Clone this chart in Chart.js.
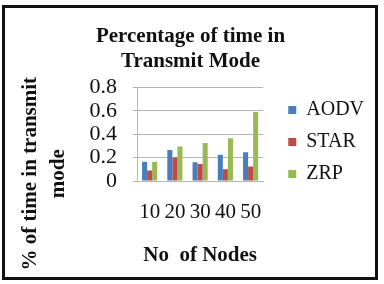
<!DOCTYPE html>
<html>
<head>
<meta charset="utf-8">
<script src="https://cdn.jsdelivr.net/npm/chart.js@4"></script>
<style>
  html, body { margin:0; padding:0; background:#fff; }
  #frame { position:absolute; left:2px; top:5px; width:370px; height:269px; border:3px solid #111; }
  #wrap { position:absolute; left:0; top:0; width:384px; height:284px; }
</style>
</head>
<body>
<div id="frame"></div>
<div id="wrap"><canvas id="c" width="384" height="284"></canvas></div>
<script>
// ─── data ────────────────────────────────────────────────
const nodes = ['10', '20', '30', '40', '50'];
const aodv  = [0.165, 0.265, 0.16, 0.225, 0.245];
const star  = [0.09, 0.20, 0.145, 0.10, 0.125];
const zrp   = [0.165, 0.295, 0.325, 0.365, 0.59];
const yTicks = [0, 0.2, 0.4, 0.6, 0.8];
const yTitle = ['% of time in transmit', 'mode'];

const SERIF = 'Liberation Serif';
const GRID  = '#b4b4b4';
const INK   = '#111';
Chart.defaults.font.family = SERIF;

// y title drawn by hand so it can sit centred on the whole lower block (like Excel)
const yTitlePlugin = {
  id: 'yTitle',
  afterDraw(chart) {
    const ctx = chart.ctx, ca = chart.chartArea, xs = chart.scales.x;
    const cy = (ca.top + xs.bottom) / 2 - 4;
    ctx.save();
    ctx.font = `bold 21px ${SERIF}`;
    ctx.fillStyle = INK;
    ctx.textAlign = 'center';
    ctx.textBaseline = 'middle';
    yTitle.forEach((t, i) => {
      ctx.save();
      ctx.translate(31 + i * 28, cy);
      ctx.rotate(-Math.PI / 2);
      ctx.fillText(t, 0, 0);
      ctx.restore();
    });
    ctx.restore();
  }
};

// gap between plot and legend, and keep the title centred on the whole frame
const nudge = {
  id: 'nudge',
  afterLayout(chart) {
    const lg = chart.legend, tb = chart.titleBlock;
    lg.left += 13; lg.right += 13;
    lg.top += 3;  lg.bottom += 3;
    tb.left += 15; tb.right += 15;
  }
};

new Chart(document.getElementById('c').getContext('2d'), {
  type: 'bar',
  data: {
    labels: nodes,
    datasets: [
      { label:'AODV', data:aodv, backgroundColor:'#4a7ebb' },
      { label:'STAR', data:star, backgroundColor:'#be4b48' },
      { label:'ZRP',  data:zrp,  backgroundColor:'#98b954' },
    ]
  },
  plugins: [yTitlePlugin, nudge],
  options: {
    responsive: false,
    animation: false,
    datasets: { bar: { categoryPercentage:0.6, barPercentage:1.0 } },
    layout: { padding: { top:10, left:0, right:33, bottom:16 } },
    plugins: {
      title: {
        display: true,
        text: ['Percentage of time in', 'Transmit Mode'],
        color: INK,
        font: { family:SERIF, size:21, weight:'bold', lineHeight:1.2 },
        padding: { top:14, bottom:13 }
      },
      legend: {
        position: 'right',
        labels: {
          color: INK,
          font: { family:SERIF, size:20 },
          boxWidth: 8, boxHeight: 8,
          padding: 12
        }
      },
      tooltip: { enabled:false }
    },
    scales: {
      x: {
        grid: { display:false, drawTicks:false },
        border: { color:GRID },
        ticks: { color:INK, font:{ family:SERIF, size:21 }, padding:19, maxRotation:0 },
        title: { display:true, text:'No  of Nodes', color:INK,
                 font:{ family:SERIF, size:21, weight:'bold' }, padding:{ top:0, bottom:0 } },
        afterFit: (s) => { s.height = 87; }
      },
      y: {
        min: 0, max: 0.8,
        afterBuildTicks: (ax) => { ax.ticks = yTicks.map(v => ({ value:v })); },
        grid: { color:GRID, tickLength:4 },
        border: { color:GRID },
        ticks: { color:INK, font:{ family:SERIF, size:22 }, padding:16, autoSkip:false,
                 callback: (v) => v === 0 ? '0' : v.toFixed(1) },
        afterFit: (s) => { s.width = 137; }
      }
    }
  }
});
</script>
</body>
</html>
